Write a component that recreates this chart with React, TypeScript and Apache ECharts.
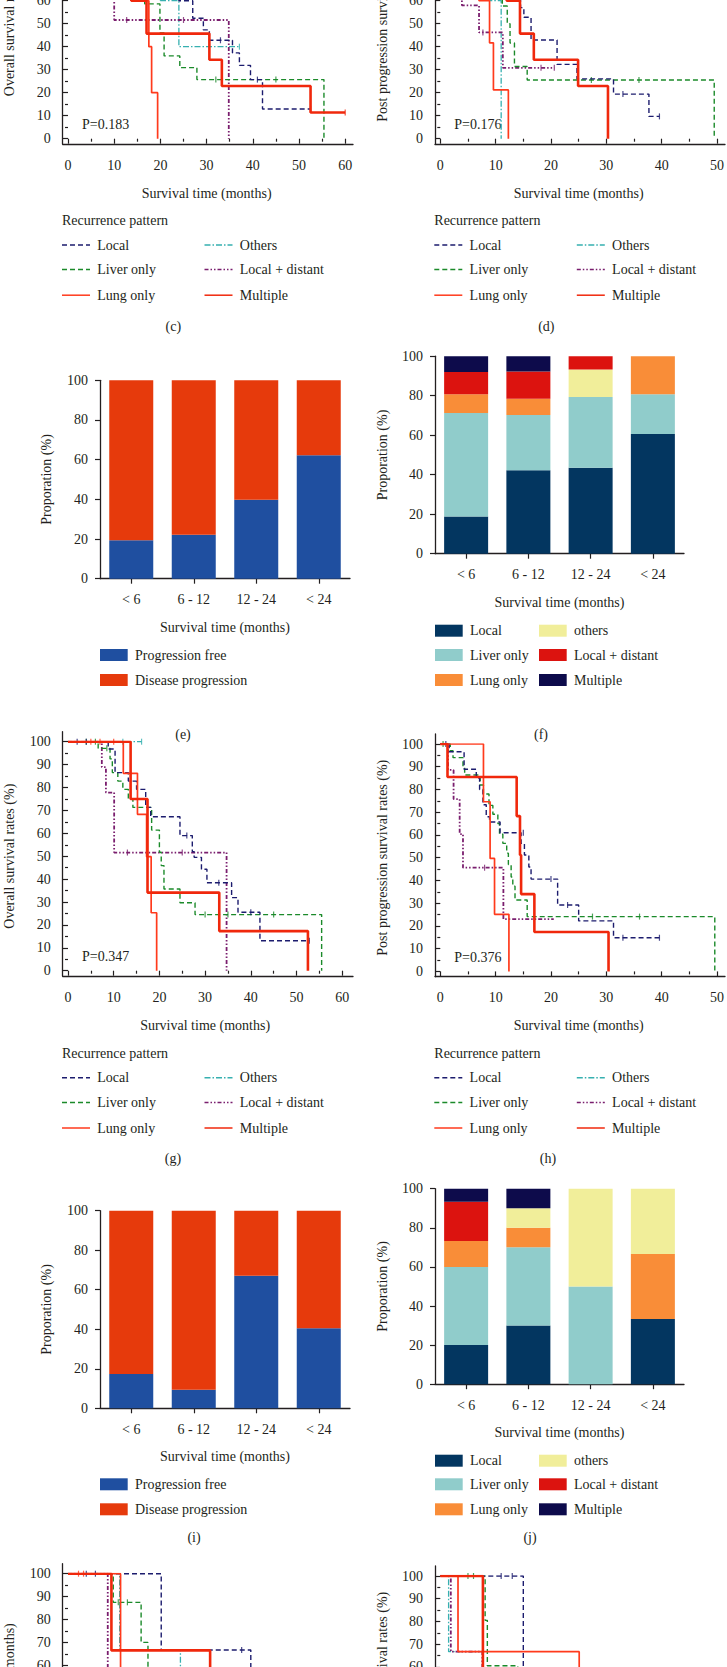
import { useEffect, useRef } from 'react';
import * as echarts from 'echarts';

const FONT = '"Liberation Serif", "Times New Roman", serif';
const INK = '#231f20';
const FS = 14;
const OFF = 5.3;
const YOFF = 110; // chart canvas starts 110px above the page top
const CH = 1667 + YOFF + 200;

// ---------- Kaplan-Meier data: [months, survival %] ----------
const groups = ['Local', 'Liver only', 'Lung only', 'Others', 'Local + distant', 'Multiple'];

// (c) overall survival
const c_local = [[0,100],[7,96],[11,92],[15,84],[19,76],[22,68],[24,60],[27,52.4],[29.3,47.3],[30.6,42.8],[35.6,37.3],[37.1,31.9],[39.5,25.7],[42.1,12.9],[52.5,12.9]];
const c_liver = [[0,100],[6,95],[9,88],[12,80],[14,70],[16.6,58.6],[19.9,46],[20.8,36],[24.2,30.9],[27.9,25.7],[55.4,0]];
const c_lung = [[0,100],[10,80],[15,60],[17.5,40],[18.1,20],[19.4,0]];
const c_others = [[0,100],[14,80],[20,60],[24,40],[37.1,40]];
const c_ld = [[0,100],[7,77.5],[10,51.6],[34.8,0]];
const c_multi = [[0,100],[9,80],[13.7,60],[17,45.7],[30.6,34.3],[33.3,22.9],[52.5,11.4],[60,11.4]];
const c_cens = [[[33,42.8],[41,25.7],[52.5,12.9]], [[32,25.7],[45,25.7]], [], [[37.1,40]], [[12.7,51.6],[25,51.6]], [[60,11.4]]];

// (d) post progression survival
const d_local = [[0,100],[3,96],[5,90],[8,84],[10,76],[12,68],[13.5,61],[14.5,57],[15.1,52.8],[16.4,42.9],[21.1,32.3],[24.7,26],[31.3,19.4],[37.7,9.7],[39.6,9.7]];
const d_liver = [[0,100],[4,90],[6,80],[8,72],[10,64],[11.2,57.7],[12.1,50],[12.6,41.6],[13.4,31.4],[15.7,25.5],[49.5,0]];
const d_lung = [[0,100],[5,80],[7,60],[8.9,41.7],[9.6,21.2],[12.3,0]];
const d_others = [[0,100],[6,80],[9,60],[11,0]];
const d_ld = [[0,100],[1.5,85],[2.5,70],[3.9,58],[7,46.2],[11.3,30.8],[20.6,30.8]];
const d_multi = [[0,100],[8,80],[12,60],[14.4,45.7],[16.9,34.3],[24.9,22.9],[30.3,0]];
const d_cens = [[[33,19.4],[39.6,9.7]], [[27.3,25.5],[35.9,25.5]], [], [], [[7.7,46.2],[18.2,30.8],[20.6,30.8]], []];

// (g) overall survival
const g_local = [[0,100],[8.8,96.8],[10.3,86.5],[13.2,82.8],[15,79.2],[17,71.3],[18.1,67.2],[24.5,59],[27.2,52],[27.6,49.5],[29.2,44.3],[30.4,38.4],[35.8,31.9],[37.2,25.5],[42,13.1],[52.8,13.1]];
const g_liver = [[0,100],[6.6,97.1],[9.2,92.5],[9.7,86.5],[10.9,82.8],[12,79.2],[13.2,75],[14.2,71.3],[18.3,61.4],[20,51.7],[20.4,45.9],[21,35.7],[24.5,29.7],[27.8,24.5],[55.5,0]];
const g_lung = [[0,100],[12.1,86.2],[15.2,68.3],[17.2,49.8],[18.2,25.3],[19.4,0]];
const g_others = [[0,100],[16.1,100]];
const g_ld = [[0,100],[7.4,88.9],[8.3,77.8],[10.1,51.6],[34.7,0]];
const g_multi = [[0,100],[13.7,75],[17.4,34.1],[33.1,17.3],[52.5,0]];
const g_cens = [[[2,100],[4,100],[26,59],[33,38.4],[40,25.5],[52.8,13.1]], [[4,100],[6,100],[8.5,97.1],[30,24.5],[35,24.5],[45,24.5]], [[5,100],[7,100],[10,100]], [[12,100],[16.1,100]], [[13,51.6],[25,51.6]], []];

// (h) post progression survival
const h_local = [[0,100],[1.6,96.6],[4.3,88.9],[6.5,85],[7.1,80],[7.7,73.3],[8.3,68],[8.9,65.7],[10.8,61],[14.6,56.3],[15.2,51.2],[16,45.9],[16.4,40.6],[21.2,29.2],[25,22.2],[31.3,14.8],[39.6,14.8]];
const h_liver = [[0,100],[1.8,97],[2.3,94],[4.1,90],[4.4,86.4],[7.2,82],[7.8,78],[8.8,73],[9.5,69.1],[10.4,65],[10.7,60.3],[11.3,56.3],[12,52],[12.3,47],[12.8,41.5],[13.1,37.5],[13.5,31.4],[15.7,24.1],[49.6,0]];
const h_lung = [[0,100],[7.8,74.6],[9,49.7],[9.8,25.1],[12.4,0]];
const h_others = [[0,100],[1.5,100]];
const h_ld = [[0,100],[1.4,88.6],[2.4,75.8],[3.5,60.4],[4.1,45.6],[11.4,23],[20.5,23]];
const h_multi = [[0,100],[1.3,85.5],[13.8,68.3],[14.4,51.2],[14.6,34],[17,17.3],[30.4,0]];
const h_cens = [[[1,100],[15,61],[20,40.6],[23,29.2],[33,14.8],[39.6,14.8]], [[0.5,100],[27.5,24.1],[36,24.1]], [], [], [[8,45.6],[17,23]], []];

// (k) and (l): only the top part is visible
const k_local = [[0,100],[20.4,66.7],[40,33.3],[45,33.3]];
const k_liver = [[0,100],[9.9,87.5],[16,70],[17.5,56],[22,42],[28,28],[35,28]];
const k_lung = [[0,100],[11.5,50],[16,0]];
const k_others = [[0,100],[11.3,66.7],[24.6,33.3],[30,33.3]];
const k_ld = [[0,100],[8.7,0]];
const k_multi = [[0,100],[9.5,66.5],[31.1,33.3],[40,33.3]];
const k_cens = [[[4,100],[6,100],[38,66.7]], [[11,87.5],[13,87.5]], [[2.3,100],[3.4,100]], [], [], []];

const l_local = [[0,100],[15,50],[20,50]];
const l_liver = [[0,100],[8.1,80.5],[8.5,60.5],[14,40],[18,40]];
const l_lung = [[0,100],[3.2,66.7],[25.1,33.3],[30,33.3]];
const l_others = [[0,100],[1.5,66.7],[7.7,0]];
const l_ld = [[0,100],[1.9,66.7],[7.6,33.3],[10,33.3]];
const l_multi = [[0,100],[7.7,50],[12,50]];
const l_cens = [[[11,100],[13,100]], [[5,100],[6,100]], [], [], [], []];

const kmPanels = [
  { id: 'c', curves: [c_local, c_liver, c_lung, c_others, c_ld, c_multi], cens: c_cens, xMax: 60, yName: 'Overall survival rates (%)', p: 'P=0.183' },
  { id: 'd', curves: [d_local, d_liver, d_lung, d_others, d_ld, d_multi], cens: d_cens, xMax: 50, yName: 'Post progression survival rates (%)', p: 'P=0.176' },
  { id: 'g', curves: [g_local, g_liver, g_lung, g_others, g_ld, g_multi], cens: g_cens, xMax: 60, yName: 'Overall survival rates (%)', p: 'P=0.347' },
  { id: 'h', curves: [h_local, h_liver, h_lung, h_others, h_ld, h_multi], cens: h_cens, xMax: 50, yName: 'Post progression survival rates (%)', p: 'P=0.376' },
  { id: 'k', curves: [k_local, k_liver, k_lung, k_others, k_ld, k_multi], cens: k_cens, xMax: 60, yName: 'Survival time (months)', p: '' },
  { id: 'l', curves: [l_local, l_liver, l_lung, l_others, l_ld, l_multi], cens: l_cens, xMax: 50, yName: 'Post progression survival rates (%)', p: '' },
];

// ---------- Bar data (%) ----------
const barCats = ['< 6', '6 - 12', '12 - 24', '< 24'];
const e_pf = [19.4, 22.2, 39.8, 62.2];
const e_dp = [80.6, 77.8, 60.2, 37.8];
const i_pf = [17.4, 9.4, 67.1, 40.5];
const i_dp = [82.6, 90.6, 32.9, 59.5];
const barGroups6 = ['Local', 'Liver only', 'Lung only', 'others', 'Local + distant', 'Multiple'];
const f_local = [18.8, 42.3, 43.5, 60.6];
const f_liver = [52.4, 27.9, 35.9, 20.1];
const f_lung = [9.5, 8.3, 0, 19.3];
const f_others = [0, 0, 13.9, 0];
const f_ld = [11.3, 13.8, 6.7, 0];
const f_multi = [8, 7.7, 0, 0];
const j_local = [20, 30, 0, 33.3];
const j_liver = [40, 40, 50, 0];
const j_lung = [13.3, 10, 0, 33.3];
const j_others = [0, 10, 50, 33.4];
const j_ld = [20, 0, 0, 0];
const j_multi = [6.7, 10, 0, 0];

// ---------- styles & layout (page pixels) ----------
const kmColors = ['#1c1c6e', '#1b8a2a', '#ff3a1c', '#36b0b0', '#7a1e6e', '#f0280c'];
const kmWidths = [1.4, 1.4, 1.7, 1.3, 1.8, 2.6];
const kmDash: any[] = [[5, 3], [5, 3], 'solid', [6, 2, 1.5, 2], [4, 2, 1.5, 2, 1.5, 2], 'solid'];
const drawOrder = [3, 4, 1, 0, 2, 5];
const pfColors = ['#1f4fa0', '#e63a0c'];
const bar6Colors = ['#033660', '#90cccb', '#f98d38', '#f1ee9a', '#dc130f', '#0d0b4b'];

const kmLayout = [
  { axisX: 62.7, y0: 138.7, y100: -91.3, dataW: 277.2, frameRight: 353, legendY: 220.7, pY: 124, label: [173.3, 326] },
  { axisX: 435, y0: 138.7, y100: -91.3, dataW: 277, frameRight: 725, legendY: 220.7, pY: 124, label: [546.3, 326] },
  { axisX: 62.7, y0: 970.7, y100: 741.7, dataW: 274.2, frameRight: 353, legendY: 1053.5, pY: 956.7, label: [173, 1158.6] },
  { axisX: 435, y0: 971.4, y100: 744, dataW: 277, frameRight: 725, legendY: 1053.5, pY: 957, label: [548, 1158.6] },
  { axisX: 62.7, y0: 1802.7, y100: 1573.7, dataW: 274.2, frameRight: 353, legendY: 0, pY: 0, label: null },
  { axisX: 435, y0: 1803.4, y100: 1576, dataW: 277, frameRight: 725, legendY: 0, pY: 0, label: null },
];

const barPanels = [
  { id: 'e', left: 100, top: 380.3, width: 250, height: 198.4, series: [e_pf, e_dp], names: ['Progression free', 'Disease progression'], colors: pfColors, legendRows: [655, 680], label: [183, 734.5] },
  { id: 'f', left: 435, top: 356.2, width: 249, height: 197.5, series: [f_local, f_liver, f_lung, f_others, f_ld, f_multi], names: barGroups6, colors: bar6Colors, legendRows: [630.7, 655, 680], label: [541, 734.5] },
  { id: 'i', left: 100, top: 1210.7, width: 250, height: 197.6, series: [i_pf, i_dp], names: ['Progression free', 'Disease progression'], colors: pfColors, legendRows: [1484.3, 1509.3], label: [194, 1537] },
  { id: 'j', left: 435, top: 1188.7, width: 249, height: 195.5, series: [j_local, j_liver, j_lung, j_others, j_ld, j_multi], names: barGroups6, colors: bar6Colors, legendRows: [1460.7, 1484.3, 1509.3], label: [530, 1537] },
];

function textEl(x: number, y: number, text: string, align = 'left') {
  return {
    type: 'text', silent: true,
    style: { x, y: y + YOFF, text, font: `${FS}px ${FONT}`, fill: INK, align, verticalAlign: 'middle', textAlign: align, textVerticalAlign: 'middle' },
  };
}

export default function App() {
  const ref = useRef<HTMLDivElement>(null);
  useEffect(() => {
    const chart = echarts.init(ref.current!, null, { renderer: 'svg' });
    const grid: any[] = [], xAxis: any[] = [], yAxis: any[] = [], series: any[] = [], graphic: any[] = [];
    const txt = { fontFamily: FONT, fontSize: FS, color: INK };
    const axLine = { show: true, lineStyle: { color: INK, width: 1.3 } };
    const tickStyle = { color: INK, width: 1.2 };

    kmPanels.forEach((P, pi) => {
      const L = kmLayout[pi];
      const fi = grid.length;
      grid.push({ left: L.axisX, top: L.y100 - 10 + YOFF, width: L.frameRight - L.axisX, height: L.y0 + OFF - (L.y100 - 10) });
      const frameAxis = { gridIndex: fi, type: 'value', min: 0, max: 1, axisLine: axLine, axisTick: { show: false }, axisLabel: { show: false }, splitLine: { show: false } };
      xAxis.push({ ...frameAxis });
      yAxis.push({ ...frameAxis });
      const di = grid.length;
      grid.push({ left: L.axisX + OFF, top: L.y100 + YOFF, width: L.dataW, height: L.y0 - L.y100 });
      xAxis.push({
        gridIndex: di, type: 'value', min: 0, max: P.xMax, interval: 10, offset: OFF,
        axisLine: { show: false }, axisTick: { show: true, length: 5, lineStyle: tickStyle },
        minorTick: { show: true, splitNumber: 2, length: 3, lineStyle: tickStyle },
        axisLabel: { ...txt, margin: 14 }, splitLine: { show: false },
        name: 'Survival time (months)', nameLocation: 'middle', nameGap: 42, nameTextStyle: txt,
      });
      yAxis.push({
        gridIndex: di, type: 'value', min: 0, max: 100, interval: 10, offset: OFF,
        axisLine: { show: false }, axisTick: { show: true, length: 5, lineStyle: tickStyle },
        minorTick: { show: true, splitNumber: 2, length: 3, lineStyle: tickStyle },
        axisLabel: { ...txt, margin: 12 }, splitLine: { show: false },
        name: P.yName, nameLocation: 'middle', nameGap: 46, nameRotate: 90, nameTextStyle: txt,
      });
      drawOrder.forEach((g, k) => {
        series.push({
          type: 'line', name: groups[g], xAxisIndex: di, yAxisIndex: di, data: P.curves[g], step: 'end',
          showSymbol: false, symbol: 'none', z: 2 + k,
          lineStyle: { color: kmColors[g], width: kmWidths[g], type: kmDash[g] },
        });
        if (P.cens[g].length) {
          series.push({
            type: 'scatter', name: groups[g], xAxisIndex: di, yAxisIndex: di, data: P.cens[g],
            symbol: 'rect', symbolSize: [1.2, 6], z: 2 + k, itemStyle: { color: kmColors[g] },
          });
        }
      });
      if (P.p) graphic.push(textEl(L.axisX + 19.3, L.pY, P.p));
      if (L.label) {
        graphic.push(textEl(L.label[0], L.label[1], `(${P.id})`, 'center'));
        const lx = L.axisX - 0.7;
        graphic.push(textEl(lx, L.legendY, 'Recurrence pattern'));
        const rowGap = 24.6;
        groups.forEach((name, g) => {
          const col = g < 3 ? 0 : 1;
          const row = g % 3;
          const x0 = lx + col * 142.5;
          const y = L.legendY + 24.3 + row * rowGap + (row === 2 ? 1 : 0);
          graphic.push({
            type: 'line', silent: true,
            shape: { x1: x0, y1: y + YOFF, x2: x0 + 28, y2: y + YOFF },
            style: { stroke: kmColors[g], lineWidth: 1.5, lineDash: kmDash[g] === 'solid' ? null : kmDash[g] },
          });
          graphic.push(textEl(x0 + 35.3, y, name));
        });
      }
    });

    barPanels.forEach((B) => {
      const bi = grid.length;
      grid.push({ left: B.left, top: B.top + YOFF, width: B.width, height: B.height });
      xAxis.push({
        gridIndex: bi, type: 'category', data: barCats, axisLine: axLine,
        axisTick: { show: true, alignWithLabel: true, length: 5, lineStyle: tickStyle },
        axisLabel: { ...txt, margin: 14 }, splitLine: { show: false },
        name: 'Survival time (months)', nameLocation: 'middle', nameGap: 41.6, nameTextStyle: txt,
      });
      yAxis.push({
        gridIndex: bi, type: 'value', min: 0, max: 100, interval: 20, axisLine: axLine,
        axisTick: { show: true, length: 5, lineStyle: tickStyle },
        axisLabel: { ...txt, margin: 12 }, splitLine: { show: false },
        name: 'Proporation (%)', nameLocation: 'middle', nameGap: B.left === 100 ? 47 : 45.7, nameRotate: 90, nameTextStyle: txt,
      });
      B.series.forEach((d, s) => {
        series.push({
          type: 'bar', name: B.names[s], xAxisIndex: bi, yAxisIndex: bi, stack: B.id, data: d,
          barWidth: 44, itemStyle: { color: B.colors[s] },
        });
      });
      graphic.push(textEl(B.label[0], B.label[1], `(${B.id})`, 'center'));
      B.names.forEach((name, s) => {
        const nRows = B.legendRows.length;
        const col = Math.floor(s / nRows);
        const row = s % nRows;
        const x0 = B.left + col * 104;
        const y = B.legendRows[row];
        graphic.push({ type: 'rect', silent: true, shape: { x: x0, y: y - 6 + YOFF, width: 27.7, height: 12 }, style: { fill: B.colors[s] } });
        graphic.push(textEl(x0 + 35, y, name));
      });
    });

    chart.setOption({
      animation: false,
      backgroundColor: '#ffffff',
      textStyle: { fontFamily: FONT },
      grid, xAxis, yAxis, series, graphic,
    });
    return () => chart.dispose();
  }, []);
  return (
    <div style={{ position: 'absolute', left: 0, top: 0, width: 727, height: 1667, overflow: 'hidden', background: '#fff' }}>
      <div ref={ref} style={{ position: 'absolute', left: 0, top: -YOFF, width: 727, height: CH }} />
    </div>
  );
}
